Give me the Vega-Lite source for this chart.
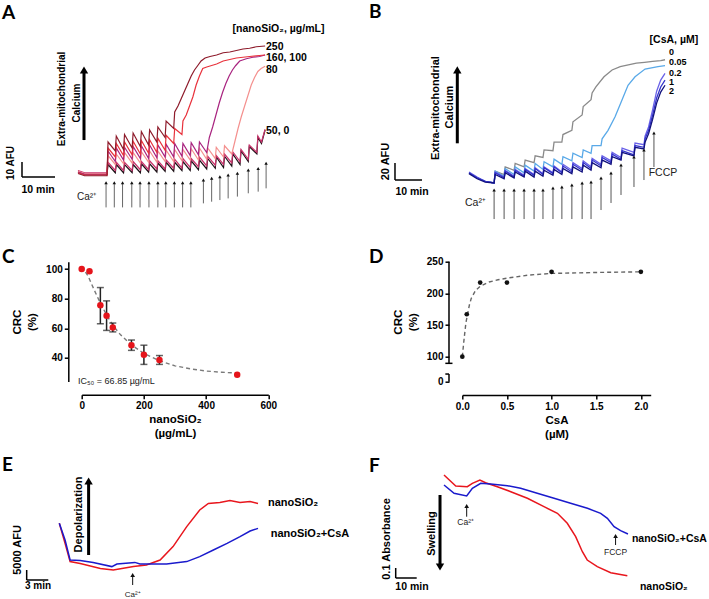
{
"$schema":"https://vega.github.io/schema/vega-lite/v6.json",
"padding":0,
"autosize":{"type":"pad"},
"background":"white",
"config":{
 "view":{"stroke":null},
 "font":"Liberation Sans",
 "text":{"font":"Liberation Sans","color":"#000"},
 "axis":{"domainColor":"#000","domainWidth":1.5,"tickColor":"#000","tickWidth":1.5,"tickSize":4,"labelFont":"Liberation Sans","labelFontWeight":"bold","labelFontSize":10,"labelColor":"#000","titleFont":"Liberation Sans","titleFontSize":11.5,"titleFontWeight":"bold","titleColor":"#000","grid":false,"labelPadding":2,"labelFlush":false,"labelOverlap":false}
},
"columns":2,
"spacing":{"row":36.7,"column":112.3},
"bounds":"flush",
"align":"each",
"center":true,
"resolve":{"scale":{"color":"independent"}},
"datasets":{
"aTr":[
{"s":"0","x":0,"y":2},{"s":"0","x":2,"y":0.5},{"s":"0","x":8.8,"y":0.5},{"s":"0","x":9.1,"y":7},{"s":"0","x":11.3,"y":1.5},{"s":"0","x":11.6,"y":7},{"s":"0","x":13.8,"y":1.5},{"s":"0","x":14.1,"y":7},{"s":"0","x":16.4,"y":1.5},{"s":"0","x":16.7,"y":7},{"s":"0","x":18.9,"y":1.5},{"s":"0","x":19.2,"y":7.5},{"s":"0","x":21.4,"y":2},{"s":"0","x":21.7,"y":7.5},{"s":"0","x":23.9,"y":2},{"s":"0","x":24.2,"y":8},{"s":"0","x":26.4,"y":2.5},{"s":"0","x":26.7,"y":8.5},{"s":"0","x":29.0,"y":2.5},{"s":"0","x":29.3,"y":8.5},{"s":"0","x":31.5,"y":3},{"s":"0","x":31.8,"y":9},{"s":"0","x":34.0,"y":3},{"s":"0","x":34.3,"y":9.5},{"s":"0","x":36.5,"y":3.5},{"s":"0","x":36.8,"y":10},{"s":"0","x":39.0,"y":4},{"s":"0","x":39.3,"y":11},{"s":"0","x":41.6,"y":4.5},{"s":"0","x":41.9,"y":12},{"s":"0","x":44.1,"y":5},{"s":"0","x":44.4,"y":12.5},{"s":"0","x":46.6,"y":6},{"s":"0","x":46.9,"y":14},{"s":"0","x":49.1,"y":7},{"s":"0","x":49.4,"y":16},{"s":"0","x":51.6,"y":9},{"s":"0","x":51.9,"y":19},{"s":"0","x":54.2,"y":14},{"s":"0","x":54.5,"y":25},{"s":"0","x":55.6,"y":21},{"s":"0","x":56.7,"y":30},
{"s":"50","x":0,"y":3},{"s":"50","x":2,"y":1.5},{"s":"50","x":8.8,"y":1.5},{"s":"50","x":9.1,"y":8.5},{"s":"50","x":11.3,"y":3},{"s":"50","x":11.6,"y":8.5},{"s":"50","x":13.8,"y":3},{"s":"50","x":14.1,"y":8.5},{"s":"50","x":16.4,"y":3},{"s":"50","x":16.7,"y":9},{"s":"50","x":18.9,"y":3.5},{"s":"50","x":19.2,"y":9},{"s":"50","x":21.4,"y":3.5},{"s":"50","x":21.7,"y":9.5},{"s":"50","x":23.9,"y":4},{"s":"50","x":24.2,"y":9.5},{"s":"50","x":26.4,"y":4},{"s":"50","x":26.7,"y":10},{"s":"50","x":29.0,"y":4.5},{"s":"50","x":29.3,"y":10.5},{"s":"50","x":31.5,"y":4.5},{"s":"50","x":31.8,"y":11},{"s":"50","x":34.0,"y":5},{"s":"50","x":34.3,"y":11},{"s":"50","x":36.5,"y":5.5},{"s":"50","x":36.8,"y":12},{"s":"50","x":39.0,"y":6},{"s":"50","x":39.3,"y":12.5},{"s":"50","x":41.6,"y":6.5},{"s":"50","x":41.9,"y":13},{"s":"50","x":44.1,"y":7},{"s":"50","x":44.4,"y":14},{"s":"50","x":46.6,"y":8},{"s":"50","x":46.9,"y":15.5},{"s":"50","x":49.1,"y":9},{"s":"50","x":49.4,"y":17},{"s":"50","x":51.6,"y":10.5},{"s":"50","x":51.9,"y":20},{"s":"50","x":54.2,"y":15},{"s":"50","x":54.5,"y":26},{"s":"50","x":55.6,"y":22},{"s":"50","x":56.7,"y":30.5},
{"s":"80","x":0,"y":2.5},{"s":"80","x":2,"y":1},{"s":"80","x":8.8,"y":1},{"s":"80","x":9.1,"y":13},{"s":"80","x":11.3,"y":7},{"s":"80","x":11.6,"y":14},{"s":"80","x":13.8,"y":7.5},{"s":"80","x":14.1,"y":15},{"s":"80","x":16.4,"y":8},{"s":"80","x":16.7,"y":15},{"s":"80","x":18.9,"y":8},{"s":"80","x":19.2,"y":15.5},{"s":"80","x":21.4,"y":8.5},{"s":"80","x":21.7,"y":16},{"s":"80","x":23.9,"y":8.5},{"s":"80","x":24.2,"y":16},{"s":"80","x":26.4,"y":9},{"s":"80","x":26.7,"y":16.5},{"s":"80","x":29.0,"y":9},{"s":"80","x":29.3,"y":17},{"s":"80","x":31.5,"y":9.5},{"s":"80","x":31.8,"y":17},{"s":"80","x":34.0,"y":10},{"s":"80","x":34.3,"y":17.5},{"s":"80","x":36.5,"y":10},{"s":"80","x":36.8,"y":18},{"s":"80","x":39.0,"y":10.5},{"s":"80","x":39.3,"y":18},{"s":"80","x":41.6,"y":11},{"s":"80","x":41.9,"y":18.5},{"s":"80","x":44.1,"y":12},{"s":"80","x":44.4,"y":19.5},{"s":"80","x":46.6,"y":14},{"s":"80","x":47.5,"y":22},{"s":"80","x":48.5,"y":31},{"s":"80","x":49.5,"y":39},{"s":"80","x":50.5,"y":46},{"s":"80","x":51.5,"y":53},{"s":"80","x":52.5,"y":60},{"s":"80","x":53.5,"y":65},{"s":"80","x":54.5,"y":69},{"s":"80","x":55.5,"y":71},{"s":"80","x":56.7,"y":72.5},
{"s":"100","x":0,"y":2},{"s":"100","x":2,"y":0.5},{"s":"100","x":8.8,"y":0.5},{"s":"100","x":9.1,"y":16},{"s":"100","x":11.3,"y":9},{"s":"100","x":11.6,"y":18},{"s":"100","x":13.8,"y":10},{"s":"100","x":14.1,"y":18.5},{"s":"100","x":16.4,"y":10.5},{"s":"100","x":16.7,"y":19},{"s":"100","x":18.9,"y":11},{"s":"100","x":19.2,"y":19.5},{"s":"100","x":21.4,"y":11},{"s":"100","x":21.7,"y":20},{"s":"100","x":23.9,"y":11.5},{"s":"100","x":24.2,"y":20},{"s":"100","x":26.4,"y":12},{"s":"100","x":26.7,"y":20.5},{"s":"100","x":29.0,"y":12},{"s":"100","x":29.3,"y":21},{"s":"100","x":31.5,"y":12.5},{"s":"100","x":31.8,"y":21},{"s":"100","x":34.0,"y":13},{"s":"100","x":34.3,"y":21.5},{"s":"100","x":36.5,"y":13.5},{"s":"100","x":36.8,"y":22},{"s":"100","x":39.0,"y":15},{"s":"100","x":39.8,"y":25},{"s":"100","x":40.8,"y":32},{"s":"100","x":41.8,"y":40},{"s":"100","x":42.8,"y":48},{"s":"100","x":43.8,"y":55},{"s":"100","x":44.8,"y":61},{"s":"100","x":45.8,"y":66},{"s":"100","x":46.8,"y":70},{"s":"100","x":47.8,"y":73},{"s":"100","x":49.0,"y":76},{"s":"100","x":51.0,"y":77.5},{"s":"100","x":53.0,"y":78.5},{"s":"100","x":55.0,"y":79},{"s":"100","x":56.7,"y":80},
{"s":"160","x":0,"y":1.5},{"s":"160","x":2,"y":0},{"s":"160","x":8.8,"y":0},{"s":"160","x":9.1,"y":18},{"s":"160","x":11.3,"y":12},{"s":"160","x":11.6,"y":21},{"s":"160","x":13.8,"y":13},{"s":"160","x":14.1,"y":22},{"s":"160","x":16.4,"y":13.5},{"s":"160","x":16.7,"y":22.5},{"s":"160","x":18.9,"y":14},{"s":"160","x":19.2,"y":23},{"s":"160","x":21.4,"y":14.5},{"s":"160","x":21.7,"y":23.5},{"s":"160","x":23.9,"y":15},{"s":"160","x":24.2,"y":24.5},{"s":"160","x":26.4,"y":16.5},{"s":"160","x":26.7,"y":26.5},{"s":"160","x":29.0,"y":21},{"s":"160","x":29.3,"y":31},{"s":"160","x":31.5,"y":27},{"s":"160","x":31.8,"y":36},{"s":"160","x":32.8,"y":40},{"s":"160","x":33.8,"y":46},{"s":"160","x":34.8,"y":52},{"s":"160","x":35.8,"y":60},{"s":"160","x":36.8,"y":66},{"s":"160","x":37.8,"y":71},{"s":"160","x":39.0,"y":72},{"s":"160","x":40.5,"y":73},{"s":"160","x":42.0,"y":74},{"s":"160","x":44.0,"y":76},{"s":"160","x":46.0,"y":77},{"s":"160","x":48.0,"y":78},{"s":"160","x":50.0,"y":78.5},{"s":"160","x":52.0,"y":79},{"s":"160","x":54.0,"y":79.5},{"s":"160","x":56.7,"y":80},
{"s":"250","x":0,"y":1},{"s":"250","x":2,"y":-0.5},{"s":"250","x":8.8,"y":-0.5},{"s":"250","x":9.1,"y":22},{"s":"250","x":11.3,"y":16},{"s":"250","x":11.6,"y":26},{"s":"250","x":13.8,"y":17},{"s":"250","x":14.1,"y":27},{"s":"250","x":16.4,"y":18},{"s":"250","x":16.7,"y":28},{"s":"250","x":18.9,"y":19},{"s":"250","x":19.2,"y":29},{"s":"250","x":21.4,"y":20},{"s":"250","x":21.7,"y":30},{"s":"250","x":23.9,"y":22},{"s":"250","x":24.2,"y":32},{"s":"250","x":26.4,"y":25},{"s":"250","x":26.7,"y":36},{"s":"250","x":29.0,"y":31},{"s":"250","x":29.3,"y":42},{"s":"250","x":30.3,"y":46},{"s":"250","x":31.3,"y":51},{"s":"250","x":32.3,"y":56},{"s":"250","x":33.3,"y":61},{"s":"250","x":34.3,"y":66},{"s":"250","x":35.3,"y":70},{"s":"250","x":36.3,"y":73},{"s":"250","x":37.3,"y":76},{"s":"250","x":38.5,"y":78},{"s":"250","x":40.0,"y":79},{"s":"250","x":42.0,"y":80},{"s":"250","x":44.0,"y":81.5},{"s":"250","x":46.0,"y":82},{"s":"250","x":48.0,"y":83},{"s":"250","x":50.0,"y":84},{"s":"250","x":52.0,"y":84.5},{"s":"250","x":54.0,"y":85.5},{"s":"250","x":56.7,"y":86}
],
"aSeg":[
{"k":"ca","x":8.5,"y":-21.6,"x2":8.5,"y2":-5.1},{"k":"ca","x":11.0,"y":-21.6,"x2":11.0,"y2":-5.1},{"k":"ca","x":13.5,"y":-21.6,"x2":13.5,"y2":-5.1},{"k":"ca","x":16.3,"y":-21.6,"x2":16.3,"y2":-5.1},{"k":"ca","x":18.8,"y":-21.6,"x2":18.8,"y2":-5.1},{"k":"ca","x":21.5,"y":-21.6,"x2":21.5,"y2":-5.1},{"k":"ca","x":24.2,"y":-21.6,"x2":24.2,"y2":-5.1},{"k":"ca","x":26.6,"y":-21.6,"x2":26.6,"y2":-5.1},{"k":"ca","x":29.2,"y":-21.6,"x2":29.2,"y2":-5.1},{"k":"ca","x":31.7,"y":-21.6,"x2":31.7,"y2":-5.1},{"k":"ca","x":34.2,"y":-21.6,"x2":34.2,"y2":-5.1},{"k":"ca","x":38.0,"y":-18.9,"x2":38.0,"y2":-3.3},{"k":"ca","x":40.5,"y":-17.8,"x2":40.5,"y2":-2.2},{"k":"ca","x":43.0,"y":-16.7,"x2":43.0,"y2":-1.1},{"k":"ca","x":45.5,"y":-15.6,"x2":45.5,"y2":0},{"k":"ca","x":48.3,"y":-14.4,"x2":48.3,"y2":1.1},{"k":"ca","x":51.6,"y":-12.2,"x2":51.6,"y2":3.3},{"k":"ca","x":54.6,"y":-11.1,"x2":54.6,"y2":4.4},{"k":"ca","x":57.0,"y":-8.9,"x2":57.0,"y2":7.8},
{"k":"bar","x":-16.97,"y":-1.33,"x2":-16.97,"y2":8.67},{"k":"bar","x":-16.97,"y":-1.33,"x2":-6.97,"y2":-1.33},
{"k":"big","x":1.82,"y":23.3,"x2":1.82,"y2":70}
],
"aNote":[
{"k":"L","x":-23.0,"y":108.3,"text":"A"},
{"k":"c","x":60.76,"y":97.3,"text":"[nanoSiO₂, µg/mL]"},
{"k":"b","x":56.97,"y":85.5,"text":"250"},
{"k":"b","x":56.97,"y":77.8,"text":"160, 100"},
{"k":"b","x":56.97,"y":70,"text":"80"},
{"k":"b","x":56.97,"y":29.3,"text":"50, 0"},
{"k":"c","x":-12.1,"y":-10,"text":"10 min"},
{"k":"r","x":-4.85,"y":50.7,"text":"Extra-mitochondrial"},
{"k":"r","x":-0.3,"y":48,"text":"Calcium"},
{"k":"r","x":-20.45,"y":8,"text":"10 AFU"},
{"k":"n","x":2.6,"y":-14.4,"text":"Ca²⁺"}
],
"bTr":[
{"s":"0","x":0,"y":12},{"s":"0","x":3,"y":6},{"s":"0","x":6,"y":2},{"s":"0","x":9.3,"y":0},{"s":"0","x":9.7,"y":14},{"s":"0","x":13.0,"y":10},{"s":"0","x":13.4,"y":19},{"s":"0","x":16.7,"y":15},{"s":"0","x":17.1,"y":23},{"s":"0","x":20.4,"y":19},{"s":"0","x":20.8,"y":27},{"s":"0","x":24.1,"y":24},{"s":"0","x":24.5,"y":32},{"s":"0","x":27.4,"y":30},{"s":"0","x":27.8,"y":39},{"s":"0","x":31.1,"y":38},{"s":"0","x":31.5,"y":48},{"s":"0","x":34.4,"y":48},{"s":"0","x":34.8,"y":57},{"s":"0","x":38.1,"y":62},{"s":"0","x":38.5,"y":72},{"s":"0","x":41.9,"y":80},{"s":"0","x":42.3,"y":90},{"s":"0","x":45.2,"y":98},{"s":"0","x":45.6,"y":106},{"s":"0","x":47.0,"y":113},{"s":"0","x":50.0,"y":125},{"s":"0","x":53.0,"y":133},{"s":"0","x":56.0,"y":137},{"s":"0","x":59.0,"y":139},{"s":"0","x":62.0,"y":141},{"s":"0","x":65.0,"y":142},{"s":"0","x":68.0,"y":143},{"s":"0","x":71.0,"y":144},{"s":"0","x":72.6,"y":145},
{"s":"0.05","x":0,"y":12},{"s":"0.05","x":3,"y":6},{"s":"0.05","x":6,"y":2},{"s":"0.05","x":9.3,"y":0},{"s":"0.05","x":9.7,"y":14},{"s":"0.05","x":13.0,"y":8},{"s":"0.05","x":13.4,"y":17},{"s":"0.05","x":16.7,"y":10},{"s":"0.05","x":17.1,"y":19},{"s":"0.05","x":20.4,"y":12},{"s":"0.05","x":20.8,"y":21},{"s":"0.05","x":24.1,"y":14},{"s":"0.05","x":24.5,"y":23},{"s":"0.05","x":27.4,"y":16},{"s":"0.05","x":27.8,"y":25},{"s":"0.05","x":31.1,"y":19},{"s":"0.05","x":31.5,"y":28},{"s":"0.05","x":34.4,"y":22},{"s":"0.05","x":34.8,"y":31},{"s":"0.05","x":38.1,"y":26},{"s":"0.05","x":38.5,"y":35},{"s":"0.05","x":41.9,"y":30},{"s":"0.05","x":42.3,"y":39},{"s":"0.05","x":45.2,"y":35},{"s":"0.05","x":45.6,"y":44},{"s":"0.05","x":48.9,"y":44},{"s":"0.05","x":49.3,"y":52},{"s":"0.05","x":51.5,"y":62},{"s":"0.05","x":54.1,"y":78},{"s":"0.05","x":56.7,"y":98},{"s":"0.05","x":58.9,"y":115},{"s":"0.05","x":61.5,"y":125},{"s":"0.05","x":65.2,"y":134},{"s":"0.05","x":70.0,"y":137},{"s":"0.05","x":72.6,"y":138},
{"s":"0.2","x":0,"y":13},{"s":"0.2","x":3,"y":7},{"s":"0.2","x":6,"y":2},{"s":"0.2","x":9.3,"y":0},{"s":"0.2","x":9.7,"y":13},{"s":"0.2","x":13.0,"y":7},{"s":"0.2","x":13.4,"y":15},{"s":"0.2","x":16.7,"y":8},{"s":"0.2","x":17.1,"y":16},{"s":"0.2","x":20.4,"y":9},{"s":"0.2","x":20.8,"y":17},{"s":"0.2","x":24.1,"y":10},{"s":"0.2","x":24.5,"y":18},{"s":"0.2","x":27.4,"y":11},{"s":"0.2","x":27.8,"y":19},{"s":"0.2","x":31.1,"y":12},{"s":"0.2","x":31.5,"y":20},{"s":"0.2","x":34.4,"y":13},{"s":"0.2","x":34.8,"y":22},{"s":"0.2","x":38.1,"y":15},{"s":"0.2","x":38.5,"y":24},{"s":"0.2","x":41.9,"y":17},{"s":"0.2","x":42.3,"y":26},{"s":"0.2","x":45.2,"y":19},{"s":"0.2","x":45.6,"y":29},{"s":"0.2","x":48.9,"y":22},{"s":"0.2","x":49.3,"y":32},{"s":"0.2","x":52.6,"y":26},{"s":"0.2","x":53.0,"y":36},{"s":"0.2","x":56.3,"y":30},{"s":"0.2","x":56.7,"y":41},{"s":"0.2","x":61.1,"y":36},{"s":"0.2","x":61.5,"y":47},{"s":"0.2","x":64.8,"y":45},{"s":"0.2","x":65.2,"y":55},{"s":"0.2","x":66.5,"y":66},{"s":"0.2","x":68.0,"y":86},{"s":"0.2","x":69.5,"y":108},{"s":"0.2","x":71.0,"y":121},{"s":"0.2","x":72.6,"y":129},
{"s":"1","x":0,"y":12},{"s":"1","x":3,"y":6},{"s":"1","x":6,"y":2},{"s":"1","x":9.3,"y":0},{"s":"1","x":9.7,"y":12},{"s":"1","x":13.0,"y":6},{"s":"1","x":13.4,"y":14},{"s":"1","x":16.7,"y":7},{"s":"1","x":17.1,"y":15},{"s":"1","x":20.4,"y":8},{"s":"1","x":20.8,"y":16},{"s":"1","x":24.1,"y":9},{"s":"1","x":24.5,"y":17},{"s":"1","x":27.4,"y":10},{"s":"1","x":27.8,"y":18},{"s":"1","x":31.1,"y":11},{"s":"1","x":31.5,"y":19},{"s":"1","x":34.4,"y":12},{"s":"1","x":34.8,"y":20},{"s":"1","x":38.1,"y":13},{"s":"1","x":38.5,"y":22},{"s":"1","x":41.9,"y":15},{"s":"1","x":42.3,"y":24},{"s":"1","x":45.2,"y":17},{"s":"1","x":45.6,"y":27},{"s":"1","x":48.9,"y":20},{"s":"1","x":49.3,"y":30},{"s":"1","x":52.6,"y":24},{"s":"1","x":53.0,"y":34},{"s":"1","x":56.3,"y":28},{"s":"1","x":56.7,"y":38},{"s":"1","x":61.1,"y":33},{"s":"1","x":61.5,"y":44},{"s":"1","x":64.8,"y":42},{"s":"1","x":65.2,"y":52},{"s":"1","x":66.5,"y":62},{"s":"1","x":68.0,"y":80},{"s":"1","x":69.5,"y":100},{"s":"1","x":71.0,"y":113},{"s":"1","x":72.6,"y":121},
{"s":"2","x":0,"y":11},{"s":"2","x":3,"y":5},{"s":"2","x":6,"y":1},{"s":"2","x":9.3,"y":0},{"s":"2","x":9.7,"y":10},{"s":"2","x":13.0,"y":5},{"s":"2","x":13.4,"y":12},{"s":"2","x":16.7,"y":6},{"s":"2","x":17.1,"y":13},{"s":"2","x":20.4,"y":7},{"s":"2","x":20.8,"y":14},{"s":"2","x":24.1,"y":7},{"s":"2","x":24.5,"y":14},{"s":"2","x":27.4,"y":8},{"s":"2","x":27.8,"y":15},{"s":"2","x":31.1,"y":9},{"s":"2","x":31.5,"y":16},{"s":"2","x":34.4,"y":10},{"s":"2","x":34.8,"y":17},{"s":"2","x":38.1,"y":11},{"s":"2","x":38.5,"y":19},{"s":"2","x":41.9,"y":13},{"s":"2","x":42.3,"y":21},{"s":"2","x":45.2,"y":15},{"s":"2","x":45.6,"y":24},{"s":"2","x":48.9,"y":18},{"s":"2","x":49.3,"y":27},{"s":"2","x":52.6,"y":22},{"s":"2","x":53.0,"y":31},{"s":"2","x":56.3,"y":27},{"s":"2","x":56.7,"y":36},{"s":"2","x":61.1,"y":32},{"s":"2","x":61.5,"y":42},{"s":"2","x":64.8,"y":40},{"s":"2","x":65.2,"y":48},{"s":"2","x":66.5,"y":58},{"s":"2","x":68.0,"y":75},{"s":"2","x":69.5,"y":94},{"s":"2","x":71.0,"y":107},{"s":"2","x":72.6,"y":115}
],
"bSeg":[
{"k":"ca","x":9.3,"y":-42.4,"x2":9.3,"y2":-8.2},{"k":"ca","x":13.0,"y":-42.4,"x2":13.0,"y2":-8.2},{"k":"ca","x":16.7,"y":-42.4,"x2":16.7,"y2":-8.2},{"k":"ca","x":20.4,"y":-42.4,"x2":20.4,"y2":-8.2},{"k":"ca","x":24.1,"y":-42.4,"x2":24.1,"y2":-8.2},{"k":"ca","x":27.4,"y":-42.4,"x2":27.4,"y2":-8.2},{"k":"ca","x":31.1,"y":-42.4,"x2":31.1,"y2":-5.9},{"k":"ca","x":34.4,"y":-42.4,"x2":34.4,"y2":-4.7},{"k":"ca","x":38.1,"y":-42.4,"x2":38.1,"y2":-2.4},{"k":"ca","x":41.9,"y":-42.4,"x2":41.9,"y2":0},{"k":"ca","x":45.2,"y":-42.4,"x2":45.2,"y2":1.2},{"k":"ca","x":48.9,"y":-31.8,"x2":48.9,"y2":5.9},{"k":"ca","x":52.6,"y":-23.5,"x2":52.6,"y2":11.8},{"k":"ca","x":56.3,"y":-14.1,"x2":56.3,"y2":21.2},{"k":"ca","x":61.1,"y":-4.7,"x2":61.1,"y2":30.6},{"k":"ca","x":64.8,"y":3.5,"x2":64.8,"y2":38.8},{"k":"ca","x":68.5,"y":18.8,"x2":68.5,"y2":58.8},
{"k":"bar","x":-27.41,"y":3.53,"x2":-27.41,"y2":23.53},{"k":"bar","x":-27.41,"y":3.53,"x2":-17.41,"y2":3.53},
{"k":"big","x":-4.33,"y":46.7,"x2":-4.33,"y2":133}
],
"bNote":[
{"k":"L","x":-37.04,"y":200.6,"text":"B"},
{"k":"c","x":75.9,"y":168.2,"text":"[CsA, µM]"},
{"k":"b","x":74.07,"y":154.1,"text":"0"},
{"k":"b","x":74.07,"y":142.4,"text":"0.05"},
{"k":"b","x":74.07,"y":129.4,"text":"0.2"},
{"k":"b","x":74.07,"y":118.8,"text":"1"},
{"k":"b","x":74.07,"y":108.2,"text":"2"},
{"k":"c","x":-21.1,"y":-10.6,"text":"10 min"},
{"k":"r","x":-12.2,"y":88.2,"text":"Extra-mitochondrial"},
{"k":"r","x":-7.2,"y":89.4,"text":"Calcium"},
{"k":"r","x":-30.7,"y":25.3,"text":"20 AFU"},
{"k":"n","x":2.4,"y":-23.5,"text":"Ca²⁺"},
{"k":"n","x":71.85,"y":12.1,"text":"FCCP"}
],
"cPts":[{"x":0,"y":100},{"x":25,"y":98.5},{"x":60,"y":75.5},{"x":80,"y":68.5},{"x":100,"y":60.5},{"x":160,"y":48.5},{"x":200,"y":42},{"x":250,"y":38.5},{"x":500,"y":28.5}],
"cErr":[{"x":60,"y":63,"y2":87.5},{"x":80,"y":58.5,"y2":78.5},{"x":100,"y":57.5,"y2":63.5},{"x":160,"y":45,"y2":52},{"x":200,"y":35.5,"y2":48.5},{"x":250,"y":35.5,"y2":41.5}],
"cFit":[{"x":0,"y":102},{"x":20,"y":95.5},{"x":40,"y":86},{"x":60,"y":77},{"x":80,"y":69},{"x":100,"y":62},{"x":125,"y":55.5},{"x":150,"y":50.5},{"x":175,"y":46.5},{"x":200,"y":43},{"x":250,"y":38},{"x":300,"y":34.5},{"x":350,"y":32.5},{"x":400,"y":31},{"x":450,"y":30.2},{"x":500,"y":29.6}],
"cNote":[{"k":"L","x":-256.3,"y":108.3,"text":"C"},{"k":"n","x":-11.9,"y":24,"text":"IC₅₀ = 66.85 µg/mL"}],
"dPts":[{"x":0,"y":100},{"x":0.05,"y":167},{"x":0.2,"y":217},{"x":0.5,"y":217},{"x":1.0,"y":234},{"x":2.0,"y":234}],
"dFit":[{"x":0,"y":100},{"x":0.02,"y":128},{"x":0.04,"y":153},{"x":0.06,"y":168},{"x":0.08,"y":182},{"x":0.1,"y":192},{"x":0.15,"y":205},{"x":0.2,"y":211},{"x":0.3,"y":218},{"x":0.4,"y":221.5},{"x":0.5,"y":224},{"x":0.75,"y":229},{"x":1.0,"y":231.5},{"x":1.5,"y":233},{"x":2.0,"y":234}],
"dSeg":[{"x":-0.149,"y":89.5,"x2":-0.149,"y2":250},{"x":-0.149,"y":60.5,"x2":-0.149,"y2":72.6},{"x":-0.19,"y":89.5,"x2":-0.11,"y2":89.5},{"x":-0.19,"y":72.6,"x2":-0.149,"y2":72.6}],
"dNote":[{"k":"L","x":-1.045,"y":256.7,"text":"D"}],
"eTr":[
{"s":"nanoSiO2","x":0,"y":28400},{"s":"nanoSiO2","x":0.8,"y":18400},{"s":"nanoSiO2","x":1.5,"y":9200},{"s":"nanoSiO2","x":2.9,"y":8300},{"s":"nanoSiO2","x":5.7,"y":5800},{"s":"nanoSiO2","x":7.5,"y":5000},{"s":"nanoSiO2","x":10.3,"y":6700},{"s":"nanoSiO2","x":12.1,"y":7500},{"s":"nanoSiO2","x":14.0,"y":10000},{"s":"nanoSiO2","x":15.8,"y":16700},{"s":"nanoSiO2","x":17.7,"y":26700},{"s":"nanoSiO2","x":19.5,"y":35000},{"s":"nanoSiO2","x":20.7,"y":38300},{"s":"nanoSiO2","x":22.3,"y":38800},{"s":"nanoSiO2","x":23.7,"y":39700},{"s":"nanoSiO2","x":25.1,"y":38800},{"s":"nanoSiO2","x":26.5,"y":39200},{"s":"nanoSiO2","x":27.6,"y":38300},
{"s":"nanoSiO2+CsA","x":0,"y":28400},{"s":"nanoSiO2+CsA","x":0.8,"y":20000},{"s":"nanoSiO2+CsA","x":1.5,"y":10000},{"s":"nanoSiO2+CsA","x":2.9,"y":9700},{"s":"nanoSiO2+CsA","x":4.7,"y":8700},{"s":"nanoSiO2+CsA","x":7.3,"y":6700},{"s":"nanoSiO2+CsA","x":8.0,"y":8000},{"s":"nanoSiO2+CsA","x":10.5,"y":8800},{"s":"nanoSiO2+CsA","x":11.2,"y":8000},{"s":"nanoSiO2+CsA","x":14.9,"y":8000},{"s":"nanoSiO2+CsA","x":17.7,"y":9200},{"s":"nanoSiO2+CsA","x":19.5,"y":11700},{"s":"nanoSiO2+CsA","x":21.4,"y":15000},{"s":"nanoSiO2+CsA","x":23.3,"y":18300},{"s":"nanoSiO2+CsA","x":25.1,"y":21700},{"s":"nanoSiO2+CsA","x":26.5,"y":24500},{"s":"nanoSiO2+CsA","x":27.6,"y":25800}
],
"eSeg":[
{"k":"bar","x":-4.53,"y":0,"x2":-4.53,"y2":5000},{"k":"bar","x":-4.53,"y":0,"x2":-1.53,"y2":0},
{"k":"big","x":4.07,"y":12500,"x2":4.07,"y2":49500},
{"k":"ca","x":10.19,"y":-2500,"x2":10.19,"y2":2500}
],
"eNote":[
{"k":"L","x":-7.96,"y":57500,"text":"E"},
{"k":"b","x":28.99,"y":38500,"text":"nanoSiO₂"},
{"k":"b","x":29.36,"y":22830,"text":"nanoSiO₂+CsA"},
{"k":"c","x":-2.96,"y":-3000,"text":"3 min"},
{"k":"r","x":-5.8,"y":15000,"text":"5000 AFU"},
{"k":"r","x":2.74,"y":32750,"text":"Depolarization"},
{"k":"n","x":10.19,"y":-7500,"text":"Ca²⁺"}
],
"fTr":[
{"s":"nanoSiO2","x":0,"y":1.05},{"s":"nanoSiO2","x":5.6,"y":0.94},{"s":"nanoSiO2","x":11.1,"y":0.933},{"s":"nanoSiO2","x":13.5,"y":0.967},{"s":"nanoSiO2","x":17.1,"y":1.0},{"s":"nanoSiO2","x":19.8,"y":0.973},{"s":"nanoSiO2","x":25.4,"y":0.933},{"s":"nanoSiO2","x":31.8,"y":0.883},{"s":"nanoSiO2","x":39.7,"y":0.817},{"s":"nanoSiO2","x":47.6,"y":0.733},{"s":"nanoSiO2","x":54.0,"y":0.667},{"s":"nanoSiO2","x":58.7,"y":0.567},{"s":"nanoSiO2","x":62.7,"y":0.433},{"s":"nanoSiO2","x":65.9,"y":0.283},{"s":"nanoSiO2","x":68.2,"y":0.2},{"s":"nanoSiO2","x":73.0,"y":0.133},{"s":"nanoSiO2","x":79.4,"y":0.073},{"s":"nanoSiO2","x":87.3,"y":0.043},
{"s":"nanoSiO2+CsA","x":0,"y":0.95},{"s":"nanoSiO2+CsA","x":4.8,"y":0.867},{"s":"nanoSiO2+CsA","x":10.8,"y":0.84},{"s":"nanoSiO2+CsA","x":13.5,"y":0.917},{"s":"nanoSiO2+CsA","x":17.5,"y":0.967},{"s":"nanoSiO2+CsA","x":22.2,"y":0.96},{"s":"nanoSiO2+CsA","x":30.2,"y":0.943},{"s":"nanoSiO2+CsA","x":36.5,"y":0.917},{"s":"nanoSiO2+CsA","x":44.4,"y":0.867},{"s":"nanoSiO2+CsA","x":52.4,"y":0.817},{"s":"nanoSiO2+CsA","x":60.3,"y":0.767},{"s":"nanoSiO2+CsA","x":68.3,"y":0.717},{"s":"nanoSiO2+CsA","x":74.6,"y":0.667},{"s":"nanoSiO2+CsA","x":77.8,"y":0.617},{"s":"nanoSiO2+CsA","x":81.0,"y":0.533},{"s":"nanoSiO2+CsA","x":84.1,"y":0.493},{"s":"nanoSiO2+CsA","x":87.6,"y":0.46}
],
"fSeg":[
{"k":"bar","x":-23.0,"y":0.02,"x2":-23.0,"y2":0.12},{"k":"bar","x":-23.0,"y":0.02,"x2":-13.0,"y2":0.02},
{"k":"bigd","x":-1.9,"y":0.85,"x2":-1.9,"y2":0.13},
{"k":"ca","x":10.8,"y":0.633,"x2":10.8,"y2":0.74},
{"k":"ca","x":81.7,"y":0.35,"x2":81.7,"y2":0.44}
],
"fNote":[
{"k":"L","x":-35.71,"y":1.14,"text":"F"},
{"k":"b","x":89.5,"y":0.407,"text":"nanoSiO₂+CsA"},
{"k":"b","x":93.3,"y":-0.067,"text":"nanoSiO₂"},
{"k":"c","x":-15.24,"y":-0.07,"text":"10 min"},
{"k":"r","x":-27.14,"y":0.41,"text":"0.1 Absorbance"},
{"k":"r","x":-5.7,"y":0.465,"text":"Swelling"},
{"k":"n","x":10.3,"y":0.583,"text":"Ca²⁺"},
{"k":"n","x":81.7,"y":0.283,"text":"FCCP"}
]
},
"concat":[
{
 "width":350,"height":225,
 "encoding":{
  "x":{"field":"x","type":"quantitative","scale":{"domain":[-23.636,82.424],"nice":false,"zero":false},"axis":null},
  "y":{"field":"y","type":"quantitative","scale":{"domain":[-33.333,116.667],"nice":false,"zero":false},"axis":null}
 },
 "layer":[
  {"data":{"name":"aTr"},"mark":{"type":"line","strokeWidth":1.2},"encoding":{"color":{"field":"s","type":"nominal","scale":{"domain":["0","50","80","100","160","250"],"range":["#1C1016","#C8336B","#F4908E","#A8237F","#E8323C","#8E1B2B"]},"legend":null}}},
  {"data":{"name":"aSeg"},"transform":[{"filter":"datum.k=='ca'"}],"mark":{"type":"rule","color":"#666","strokeWidth":1},"encoding":{"x2":{"field":"x2"},"y2":{"field":"y2"}}},
  {"data":{"name":"aSeg"},"transform":[{"filter":"datum.k=='ca'"}],"mark":{"type":"point","shape":"triangle-up","filled":true,"size":12,"color":"#111","opacity":1},"encoding":{"y":{"field":"y2","type":"quantitative","scale":{"domain":[-33.333,116.667],"nice":false,"zero":false},"axis":null}}},
  {"data":{"name":"aSeg"},"transform":[{"filter":"datum.k=='bar'"}],"mark":{"type":"rule","color":"#000","strokeWidth":1.5},"encoding":{"x2":{"field":"x2"},"y2":{"field":"y2"}}},
  {"data":{"name":"aSeg"},"transform":[{"filter":"datum.k=='big'"}],"mark":{"type":"rule","color":"#000","strokeWidth":3},"encoding":{"x2":{"field":"x2"},"y2":{"field":"y2"}}},
  {"data":{"name":"aSeg"},"transform":[{"filter":"datum.k=='big'"}],"mark":{"type":"point","shape":"triangle-up","filled":true,"size":70,"color":"#000","opacity":1},"encoding":{"y":{"field":"y2","type":"quantitative","scale":{"domain":[-33.333,116.667],"nice":false,"zero":false},"axis":null}}},
  {"data":{"name":"aNote"},"transform":[{"filter":"datum.k=='L'"}],"mark":{"type":"text","font":"Lato","fontWeight":"bold","fontSize":19,"align":"left","baseline":"middle"},"encoding":{"text":{"field":"text"}}},
  {"data":{"name":"aNote"},"transform":[{"filter":"datum.k=='b'"}],"mark":{"type":"text","fontWeight":"bold","fontSize":10.5,"align":"left","baseline":"middle"},"encoding":{"text":{"field":"text"}}},
  {"data":{"name":"aNote"},"transform":[{"filter":"datum.k=='c'"}],"mark":{"type":"text","fontWeight":"bold","fontSize":10.5,"align":"center","baseline":"middle"},"encoding":{"text":{"field":"text"}}},
  {"data":{"name":"aNote"},"transform":[{"filter":"datum.k=='r'"}],"mark":{"type":"text","fontWeight":"bold","fontSize":10,"align":"center","baseline":"middle","angle":270},"encoding":{"text":{"field":"text"}}},
  {"data":{"name":"aNote"},"transform":[{"filter":"datum.k=='n'"}],"mark":{"type":"text","fontSize":10,"align":"center","baseline":"middle","color":"#222"},"encoding":{"text":{"field":"text"}}}
 ]
},
{
 "width":188.4,"height":225,
 "encoding":{
  "x":{"field":"x","type":"quantitative","scale":{"domain":[-2.481,67.296],"nice":false,"zero":false},"axis":null},
  "y":{"field":"y","type":"quantitative","scale":{"domain":[-49.412,215.294],"nice":false,"zero":false},"axis":null}
 },
 "layer":[
  {"data":{"name":"bTr"},"mark":{"type":"line","strokeWidth":1.3},"encoding":{"color":{"field":"s","type":"nominal","scale":{"domain":["0","0.05","0.2","1","2"],"range":["#8A8A8A","#59A9E8","#6A62E8","#3434CC","#12127E"]},"legend":null}}},
  {"data":{"name":"bSeg"},"transform":[{"filter":"datum.k=='ca'"}],"mark":{"type":"rule","color":"#555","strokeWidth":1},"encoding":{"x2":{"field":"x2"},"y2":{"field":"y2"}}},
  {"data":{"name":"bSeg"},"transform":[{"filter":"datum.k=='ca'"}],"mark":{"type":"point","shape":"triangle-up","filled":true,"size":12,"color":"#111","opacity":1},"encoding":{"y":{"field":"y2","type":"quantitative","scale":{"domain":[-49.412,215.294],"nice":false,"zero":false},"axis":null}}},
  {"data":{"name":"bSeg"},"transform":[{"filter":"datum.k=='bar'"}],"mark":{"type":"rule","color":"#000","strokeWidth":1.5},"encoding":{"x2":{"field":"x2"},"y2":{"field":"y2"}}},
  {"data":{"name":"bSeg"},"transform":[{"filter":"datum.k=='big'"}],"mark":{"type":"rule","color":"#000","strokeWidth":3},"encoding":{"x2":{"field":"x2"},"y2":{"field":"y2"}}},
  {"data":{"name":"bSeg"},"transform":[{"filter":"datum.k=='big'"}],"mark":{"type":"point","shape":"triangle-up","filled":true,"size":70,"color":"#000","opacity":1},"encoding":{"y":{"field":"y2","type":"quantitative","scale":{"domain":[-49.412,215.294],"nice":false,"zero":false},"axis":null}}},
  {"data":{"name":"bNote"},"transform":[{"filter":"datum.k=='L'"}],"mark":{"type":"text","font":"Lato","fontWeight":"bold","fontSize":19,"align":"left","baseline":"middle"},"encoding":{"text":{"field":"text"}}},
  {"data":{"name":"bNote"},"transform":[{"filter":"datum.k=='b'"}],"mark":{"type":"text","fontWeight":"bold","fontSize":9,"align":"left","baseline":"middle"},"encoding":{"text":{"field":"text"}}},
  {"data":{"name":"bNote"},"transform":[{"filter":"datum.k=='c'"}],"mark":{"type":"text","fontWeight":"bold","fontSize":10.5,"align":"center","baseline":"middle"},"encoding":{"text":{"field":"text"}}},
  {"data":{"name":"bNote"},"transform":[{"filter":"datum.k=='r'"}],"mark":{"type":"text","fontWeight":"bold","fontSize":11,"align":"center","baseline":"middle","angle":270},"encoding":{"text":{"field":"text"}}},
  {"data":{"name":"bNote"},"transform":[{"filter":"datum.k=='n'"}],"mark":{"type":"text","fontSize":10.5,"align":"center","baseline":"middle","color":"#222"},"encoding":{"text":{"field":"text"}}}
 ]
},
{
 "width":186.6,"height":119.7,
 "encoding":{
  "x":{"field":"x","type":"quantitative","scale":{"domain":[0,600],"nice":false,"zero":false},"axis":{"values":[0,200,400,600],"title":["nanoSiO₂","(µg/mL)"],"offset":13.3,"titlePadding":3,"titleLineHeight":14}},
  "y":{"field":"y","type":"quantitative","scale":{"domain":[24,105],"nice":false,"zero":false},"axis":{"values":[40,60,80,100],"title":["CRC","(%)"],"offset":13.4,"titlePadding":8,"titleLineHeight":15}}
 },
 "layer":[
  {"data":{"name":"cFit"},"mark":{"type":"line","strokeDash":[4,3],"color":"#7a7a7a","strokeWidth":1.4}},
  {"data":{"name":"cErr"},"mark":{"type":"rule","color":"#222","strokeWidth":1.5},"encoding":{"y2":{"field":"y2"}}},
  {"data":{"name":"cErr"},"mark":{"type":"tick","orient":"horizontal","color":"#222","size":7,"thickness":1.5}},
  {"data":{"name":"cErr"},"mark":{"type":"tick","orient":"horizontal","color":"#222","size":7,"thickness":1.5},"encoding":{"y":{"field":"y2","type":"quantitative","scale":{"domain":[24,105],"nice":false,"zero":false},"axis":{"values":[40,60,80,100],"title":["CRC","(%)"],"offset":13.4,"titlePadding":8,"titleLineHeight":15}}}},
  {"data":{"name":"cPts"},"mark":{"type":"circle","size":42,"color":"#E5141B","opacity":1}},
  {"data":{"name":"cNote"},"transform":[{"filter":"datum.k=='L'"}],"mark":{"type":"text","font":"Lato","fontWeight":"bold","fontSize":19,"align":"left","baseline":"middle"},"encoding":{"text":{"field":"text"}}},
  {"data":{"name":"cNote"},"transform":[{"filter":"datum.k=='n'"}],"mark":{"type":"text","fontSize":9,"align":"left","baseline":"middle","color":"#222"},"encoding":{"text":{"field":"text"}}}
 ]
},
{
 "width":188.4,"height":120,
 "encoding":{
  "x":{"field":"x","type":"quantitative","scale":{"domain":[0,2.11],"nice":false,"zero":false},"axis":{"values":[0,0.5,1,1.5,2],"format":".1f","title":["CsA","(µM)"],"offset":13.3,"titlePadding":3,"titleLineHeight":14}},
  "y":{"field":"y","type":"quantitative","scale":{"domain":[60.5,250],"nice":false,"zero":false},"axis":{"values":[60.5,100,150,200,250],"labelExpr":"datum.value < 70 ? '0' : datum.label","domain":false,"title":["CRC","(%)"],"offset":13.3,"titlePadding":8,"titleLineHeight":15}}
 },
 "layer":[
  {"data":{"name":"dFit"},"mark":{"type":"line","strokeDash":[4,3],"color":"#666","strokeWidth":1.4}},
  {"data":{"name":"dPts"},"mark":{"type":"circle","size":22,"color":"#111","opacity":1}},
  {"data":{"name":"dSeg"},"mark":{"type":"rule","color":"#000","strokeWidth":1.5},"encoding":{"x2":{"field":"x2"},"y2":{"field":"y2"}}},
  {"data":{"name":"dNote"},"mark":{"type":"text","font":"Lato","fontWeight":"bold","fontSize":19,"align":"left","baseline":"middle"},"encoding":{"text":{"field":"text"}}}
 ]
},
{
 "width":350,"height":180.6,
 "encoding":{
  "x":{"field":"x","type":"quantitative","scale":{"domain":[-8.236,40.375],"nice":false,"zero":false},"axis":null},
  "y":{"field":"y","type":"quantitative","scale":{"domain":[-9500,80800],"nice":false,"zero":false},"axis":null}
 },
 "layer":[
  {"data":{"name":"eTr"},"mark":{"type":"line","strokeWidth":1.5},"encoding":{"color":{"field":"s","type":"nominal","scale":{"domain":["nanoSiO2","nanoSiO2+CsA"],"range":["#E8161D","#1A1ACC"]},"legend":null}}},
  {"data":{"name":"eSeg"},"transform":[{"filter":"datum.k=='ca'"}],"mark":{"type":"rule","color":"#111","strokeWidth":1},"encoding":{"x2":{"field":"x2"},"y2":{"field":"y2"}}},
  {"data":{"name":"eSeg"},"transform":[{"filter":"datum.k=='ca'"}],"mark":{"type":"point","shape":"triangle-up","filled":true,"size":22,"color":"#111","opacity":1},"encoding":{"y":{"field":"y2","type":"quantitative","scale":{"domain":[-9500,80800],"nice":false,"zero":false},"axis":null}}},
  {"data":{"name":"eSeg"},"transform":[{"filter":"datum.k=='bar'"}],"mark":{"type":"rule","color":"#000","strokeWidth":1.5},"encoding":{"x2":{"field":"x2"},"y2":{"field":"y2"}}},
  {"data":{"name":"eSeg"},"transform":[{"filter":"datum.k=='big'"}],"mark":{"type":"rule","color":"#000","strokeWidth":3},"encoding":{"x2":{"field":"x2"},"y2":{"field":"y2"}}},
  {"data":{"name":"eSeg"},"transform":[{"filter":"datum.k=='big'"}],"mark":{"type":"point","shape":"triangle-up","filled":true,"size":70,"color":"#000","opacity":1},"encoding":{"y":{"field":"y2","type":"quantitative","scale":{"domain":[-9500,80800],"nice":false,"zero":false},"axis":null}}},
  {"data":{"name":"eNote"},"transform":[{"filter":"datum.k=='L'"}],"mark":{"type":"text","font":"Lato","fontWeight":"bold","fontSize":19,"align":"left","baseline":"middle"},"encoding":{"text":{"field":"text"}}},
  {"data":{"name":"eNote"},"transform":[{"filter":"datum.k=='b'"}],"mark":{"type":"text","fontWeight":"bold","fontSize":11,"align":"left","baseline":"middle"},"encoding":{"text":{"field":"text"}}},
  {"data":{"name":"eNote"},"transform":[{"filter":"datum.k=='c'"}],"mark":{"type":"text","fontWeight":"bold","fontSize":10,"align":"center","baseline":"middle"},"encoding":{"text":{"field":"text"}}},
  {"data":{"name":"eNote"},"transform":[{"filter":"datum.k=='r'"}],"mark":{"type":"text","fontWeight":"bold","fontSize":11,"align":"center","baseline":"middle","angle":270},"encoding":{"text":{"field":"text"}}},
  {"data":{"name":"eNote"},"transform":[{"filter":"datum.k=='n'"}],"mark":{"type":"text","fontSize":8,"align":"center","baseline":"middle","color":"#222"},"encoding":{"text":{"field":"text"}}}
 ]
},
{
 "width":188.4,"height":180.6,
 "encoding":{
  "x":{"field":"x","type":"quantitative","scale":{"domain":[8.714,98.429],"nice":false,"zero":false},"axis":null},
  "y":{"field":"y","type":"quantitative","scale":{"domain":[-0.19,1.616],"nice":false,"zero":false},"axis":null}
 },
 "layer":[
  {"data":{"name":"fTr"},"mark":{"type":"line","strokeWidth":1.5},"encoding":{"color":{"field":"s","type":"nominal","scale":{"domain":["nanoSiO2","nanoSiO2+CsA"],"range":["#E8161D","#1A1ACC"]},"legend":null}}},
  {"data":{"name":"fSeg"},"transform":[{"filter":"datum.k=='ca'"}],"mark":{"type":"rule","color":"#111","strokeWidth":1},"encoding":{"x2":{"field":"x2"},"y2":{"field":"y2"}}},
  {"data":{"name":"fSeg"},"transform":[{"filter":"datum.k=='ca'"}],"mark":{"type":"point","shape":"triangle-up","filled":true,"size":22,"color":"#111","opacity":1},"encoding":{"y":{"field":"y2","type":"quantitative","scale":{"domain":[-0.19,1.616],"nice":false,"zero":false},"axis":null}}},
  {"data":{"name":"fSeg"},"transform":[{"filter":"datum.k=='bar'"}],"mark":{"type":"rule","color":"#000","strokeWidth":1.5},"encoding":{"x2":{"field":"x2"},"y2":{"field":"y2"}}},
  {"data":{"name":"fSeg"},"transform":[{"filter":"datum.k=='bigd'"}],"mark":{"type":"rule","color":"#000","strokeWidth":3},"encoding":{"x2":{"field":"x2"},"y2":{"field":"y2"}}},
  {"data":{"name":"fSeg"},"transform":[{"filter":"datum.k=='bigd'"}],"mark":{"type":"point","shape":"triangle-down","filled":true,"size":70,"color":"#000","opacity":1},"encoding":{"y":{"field":"y2","type":"quantitative","scale":{"domain":[-0.19,1.616],"nice":false,"zero":false},"axis":null}}},
  {"data":{"name":"fNote"},"transform":[{"filter":"datum.k=='L'"}],"mark":{"type":"text","font":"Lato","fontWeight":"bold","fontSize":19,"align":"left","baseline":"middle"},"encoding":{"text":{"field":"text"}}},
  {"data":{"name":"fNote"},"transform":[{"filter":"datum.k=='b'"}],"mark":{"type":"text","fontWeight":"bold","fontSize":10.5,"align":"left","baseline":"middle"},"encoding":{"text":{"field":"text"}}},
  {"data":{"name":"fNote"},"transform":[{"filter":"datum.k=='c'"}],"mark":{"type":"text","fontWeight":"bold","fontSize":10.5,"align":"center","baseline":"middle"},"encoding":{"text":{"field":"text"}}},
  {"data":{"name":"fNote"},"transform":[{"filter":"datum.k=='r'"}],"mark":{"type":"text","fontWeight":"bold","fontSize":11,"align":"center","baseline":"middle","angle":270},"encoding":{"text":{"field":"text"}}},
  {"data":{"name":"fNote"},"transform":[{"filter":"datum.k=='n'"}],"mark":{"type":"text","fontSize":8.5,"align":"center","baseline":"middle","color":"#222"},"encoding":{"text":{"field":"text"}}}
 ]
}
]
}
